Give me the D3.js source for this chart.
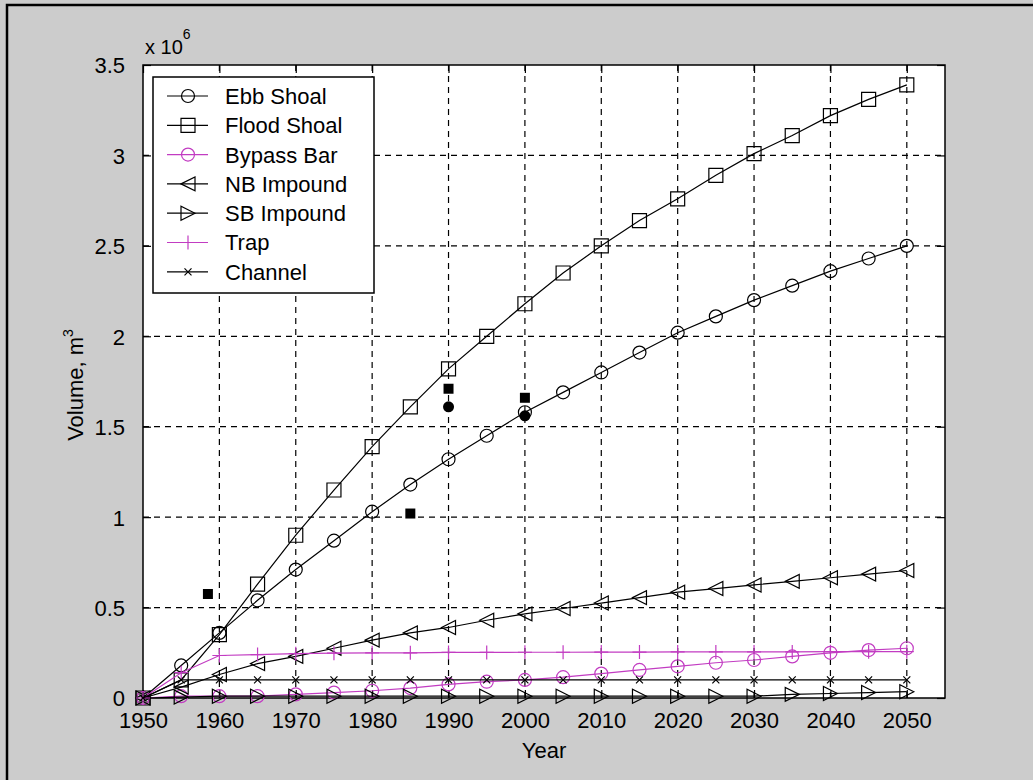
<!DOCTYPE html>
<html>
<head>
<meta charset="utf-8">
<script src="https://cdn.jsdelivr.net/npm/d3@7"></script>
<style>
  body { margin: 0; background: #cccccc; }
  text { font-family: "Liberation Sans", Arial, sans-serif; fill: #000; }
</style>
</head>
<body>
<div class="container"></div>
<script>
/* Data (volumes in millions of m^3) */
const years = [1950, 1955, 1960, 1965, 1970, 1975, 1980, 1985, 1990, 1995, 2000,
               2005, 2010, 2015, 2020, 2025, 2030, 2035, 2040, 2045, 2050];

const ebbShoal   = [0, 0.18, 0.36, 0.54, 0.71, 0.87, 1.03, 1.18, 1.32, 1.45, 1.58,
                    1.69, 1.80, 1.91, 2.02, 2.11, 2.20, 2.28, 2.36, 2.43, 2.50];
const floodShoal = [0, 0.10, 0.35, 0.63, 0.90, 1.15, 1.39, 1.61, 1.82, 2.00, 2.18,
                    2.35, 2.50, 2.64, 2.76, 2.89, 3.01, 3.11, 3.22, 3.31, 3.39];
const bypassBar  = [0, 0.01, 0.01, 0.01, 0.02, 0.03, 0.04, 0.055, 0.075, 0.09, 0.10,
                    0.115, 0.135, 0.155, 0.175, 0.195, 0.21, 0.23, 0.25, 0.265, 0.275];
const nbImpound  = [0, 0.06, 0.13, 0.19, 0.23, 0.275, 0.32, 0.36, 0.39, 0.43, 0.465,
                    0.495, 0.525, 0.555, 0.585, 0.605, 0.625, 0.645, 0.665, 0.685, 0.705];
const sbImpound  = [0, 0.005, 0.01, 0.01, 0.01, 0.01, 0.01, 0.01, 0.01, 0.01, 0.01,
                    0.01, 0.01, 0.01, 0.01, 0.01, 0.01, 0.02, 0.025, 0.03, 0.035];
const trap       = [0, 0.14, 0.235, 0.24, 0.245, 0.248, 0.25, 0.25, 0.252, 0.252, 0.253,
                    0.253, 0.254, 0.254, 0.255, 0.255, 0.255, 0.255, 0.256, 0.256, 0.256];
const channel    = [0, 0.10, 0.10, 0.10, 0.10, 0.10, 0.10, 0.10, 0.10, 0.10, 0.10,
                    0.10, 0.10, 0.10, 0.10, 0.10, 0.10, 0.10, 0.10, 0.10, 0.10];

// Measured (filled) points
const measuredSquareYears = [1958.5, 1985, 1990, 2000];
const measuredSquareVals  = [0.575, 1.02, 1.71, 1.66];
const measuredCircleYears = [1990, 2000];
const measuredCircleVals  = [1.61, 1.56];

const xTicks = [1950, 1960, 1970, 1980, 1990, 2000, 2010, 2020, 2030, 2040, 2050];
const yTicks = [0, 0.5, 1, 1.5, 2, 2.5, 3, 3.5];
const yTickLabels = ['0', '0.5', '1', '1.5', '2', '2.5', '3', '3.5'];

/* Layout */
const W = 1033, H = 780;
const pLeft = 143, pRight = 945, pTop = 65, pBottom = 698;
const magenta = '#c23cc2';

const x = d3.scaleLinear().domain([1950, 2055]).range([pLeft, pRight]);
const y = d3.scaleLinear().domain([0, 3.5]).range([pBottom, pTop]);

/* Markers */
function markerPath(type, s) {
    switch (type) {
        case 'circle':
            return `M${s},0A${s},${s} 0 1,1 ${-s},0A${s},${s} 0 1,1 ${s},0Z`;
        case 'square':
            return `M${-s},${-s}H${s}V${s}H${-s}Z`;
        case 'left':
            return `M${-s},0L${s},${-s}L${s},${s}Z`;
        case 'right':
            return `M${s},0L${-s},${-s}L${-s},${s}Z`;
        case 'plus':
            return `M${-s},0H${s}M0,${-s}V${s}`;
        case 'cross':
            return `M${-s},${-s}L${s},${s}M${-s},${s}L${s},${-s}`;
    }
}

const series = [
    { name: 'Ebb Shoal',   values: ebbShoal,   marker: 'circle', size: 6.5, color: '#000' },
    { name: 'Flood Shoal', values: floodShoal, marker: 'square', size: 7,   color: '#000' },
    { name: 'Bypass Bar',  values: bypassBar,  marker: 'circle', size: 6.5, color: magenta },
    { name: 'NB Impound',  values: nbImpound,  marker: 'left',   size: 7,   color: '#000' },
    { name: 'SB Impound',  values: sbImpound,  marker: 'right',  size: 7,   color: '#000' },
    { name: 'Trap',        values: trap,       marker: 'plus',   size: 7,   color: magenta },
    { name: 'Channel',     values: channel,    marker: 'cross',  size: 3.5, color: '#000' }
];

const svg = d3.select('.container')
    .append('svg')
    .attr('width', W)
    .attr('height', H)
    .style('display', 'block')
    .style('background', '#cccccc');

// figure frame edge
svg.append('path')
    .attr('d', `M7,${H}V5H${W}`)
    .attr('fill', 'none')
    .attr('stroke', '#000')
    .attr('stroke-width', 2.5);

// axes background
svg.append('rect')
    .attr('x', pLeft).attr('y', pTop)
    .attr('width', pRight - pLeft).attr('height', pBottom - pTop)
    .attr('fill', '#fff');

// grid
const grid = svg.append('g').attr('class', 'grid');
grid.selectAll('.vgrid')
    .data(xTicks.slice(1))
    .enter().append('line')
    .attr('x1', d => x(d)).attr('x2', d => x(d))
    .attr('y1', pTop).attr('y2', pBottom);
grid.selectAll('.hgrid')
    .data(yTicks.slice(1, -1))
    .enter().append('line')
    .attr('x1', pLeft).attr('x2', pRight)
    .attr('y1', d => y(d)).attr('y2', d => y(d));
grid.selectAll('line')
    .attr('stroke', '#000')
    .attr('stroke-width', 1.2)
    .attr('stroke-dasharray', '6,5');

// axes with inward ticks
const tickLen = 8;
const gx = svg.append('g')
    .attr('transform', `translate(0,${pBottom})`)
    .call(d3.axisBottom(x).tickValues(xTicks).tickFormat(d3.format('d'))
        .tickSizeInner(-tickLen).tickSizeOuter(0).tickPadding(10 + tickLen));
const gxTop = svg.append('g')
    .attr('transform', `translate(0,${pTop})`)
    .call(d3.axisTop(x).tickValues(xTicks).tickSizeInner(-tickLen).tickSizeOuter(0).tickFormat(''));
const gy = svg.append('g')
    .attr('transform', `translate(${pLeft},0)`)
    .call(d3.axisLeft(y).tickValues(yTicks).tickSizeInner(-tickLen).tickSizeOuter(0)
        .tickPadding(10 + tickLen).tickFormat((d, i) => yTickLabels[i]));
const gyRight = svg.append('g')
    .attr('transform', `translate(${pRight},0)`)
    .call(d3.axisRight(y).tickValues(yTicks).tickSizeInner(-tickLen).tickSizeOuter(0).tickFormat(''));

[gx, gxTop, gy, gyRight].forEach(g => {
    g.select('.domain').remove();
    g.selectAll('line').attr('stroke', '#000').attr('stroke-width', 1.2);
    g.selectAll('text').attr('font-size', 22).attr('font-family', '"Liberation Sans", Arial, sans-serif').attr('fill', '#000');
});
gx.selectAll('text').attr('dy', '0.55em');
gy.selectAll('text').attr('dy', '0.36em');

// axes box
svg.append('rect')
    .attr('x', pLeft).attr('y', pTop)
    .attr('width', pRight - pLeft).attr('height', pBottom - pTop)
    .attr('fill', 'none')
    .attr('stroke', '#000')
    .attr('stroke-width', 1.5);

// exponent label
const expo = svg.append('text')
    .attr('x', 145).attr('y', 54)
    .attr('font-size', 20);
expo.append('tspan').text('x 10');
expo.append('tspan').attr('font-size', 14).attr('dy', -15).text('6');

// axis titles
svg.append('text')
    .attr('x', (pLeft + pRight) / 2).attr('y', 758)
    .attr('text-anchor', 'middle')
    .attr('font-size', 22)
    .text('Year');

const ylab = svg.append('text')
    .attr('transform', `translate(83,385) rotate(-90)`)
    .attr('text-anchor', 'middle')
    .attr('font-size', 22);
ylab.append('tspan').text('Volume, m');
ylab.append('tspan').attr('font-size', 14).attr('dy', -10).text('3');

// series
const line = d3.line().x((d, i) => x(years[i])).y(d => y(d));
const plot = svg.append('g');

series.forEach(s => {
    const g = plot.append('g');
    g.append('path')
        .datum(s.values)
        .attr('d', line)
        .attr('fill', 'none')
        .attr('stroke', s.color)
        .attr('stroke-width', 1.2);
    g.selectAll('.mk')
        .data(s.values)
        .enter().append('path')
        .attr('transform', (d, i) => `translate(${x(years[i])},${y(d)})`)
        .attr('d', markerPath(s.marker, s.size))
        .attr('fill', 'none')
        .attr('stroke', s.color)
        .attr('stroke-width', 1.2);
});

// measured points
plot.selectAll('.msq')
    .data(measuredSquareVals)
    .enter().append('path')
    .attr('transform', (d, i) => `translate(${x(measuredSquareYears[i])},${y(d)})`)
    .attr('d', markerPath('square', 5))
    .attr('fill', '#000');
plot.selectAll('.mci')
    .data(measuredCircleVals)
    .enter().append('path')
    .attr('transform', (d, i) => `translate(${x(measuredCircleYears[i])},${y(d)})`)
    .attr('d', markerPath('circle', 5.5))
    .attr('fill', '#000');

// legend
const lg = svg.append('g');
lg.append('rect')
    .attr('x', 153).attr('y', 77)
    .attr('width', 221).attr('height', 216)
    .attr('fill', '#fff')
    .attr('stroke', '#000')
    .attr('stroke-width', 1.5);
const rows = lg.selectAll('.row')
    .data(series)
    .enter().append('g')
    .attr('transform', (d, i) => `translate(0,${96 + i * 29.3})`);
rows.append('line')
    .attr('x1', 167).attr('x2', 208)
    .attr('stroke', d => d.color)
    .attr('stroke-width', 1.2);
rows.append('path')
    .attr('transform', 'translate(188,0)')
    .attr('d', d => markerPath(d.marker, d.size))
    .attr('fill', 'none')
    .attr('stroke', d => d.color)
    .attr('stroke-width', 1.2);
rows.append('text')
    .attr('x', 225).attr('dy', '0.36em')
    .attr('font-size', 22)
    .text(d => d.name);
</script>
</body>
</html>
